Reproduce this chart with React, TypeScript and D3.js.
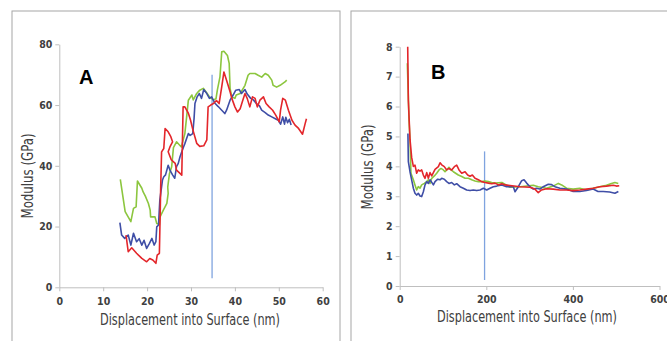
import React, { useEffect, useRef } from "react";
import * as d3 from "d3";

// panel A: modulus vs displacement (nm), three indents
const aGreen: [number, number][] = [
  [13.9, 35.5], [15.0, 24.9], [16.3, 21.6], [16.9, 26], [17.5, 26.5], [17.8, 35], [18.8, 32.6], [19.1, 31.4],
  [19.6, 30], [20.3, 27.6], [20.7, 25.4], [20.8, 23.2], [21.8, 23.2], [22.2, 21], [22.8, 20.7], [22.9, 23],
  [23.7, 25.4], [24.5, 27.6], [24.8, 30.9], [24.7, 33], [25.1, 37.5], [25.6, 39.7], [26.0, 46], [26.7, 47.9],
  [27.8, 46.2], [28.6, 50.6], [29.0, 56], [29.4, 61.6], [30.2, 63.3], [30.5, 61.7], [31.3, 63.8], [32.0, 64.9],
  [32.8, 65.5], [33.6, 64], [34.3, 62.5], [35.1, 61.7], [35.7, 62.1], [36.0, 64.9], [36.6, 69.3], [37.0, 77.5],
  [37.5, 77.7], [38.3, 76.3], [38.7, 73.7], [38.9, 65.5], [39.3, 62.7], [40.0, 62.2], [40.3, 63.3], [41.2, 63.8],
  [42.3, 66.5], [43.0, 69.8], [43.4, 70.4], [44.6, 70.4], [45.3, 69.8], [46.1, 69.2], [46.9, 70.4], [47.6, 69.8],
  [48.4, 68.2], [48.7, 66.5], [49.5, 65.9], [50.3, 66.5], [51.4, 67.6], [51.8, 68.2]
];
const aBlue: [number, number][] = [
  [13.8, 21.3], [14.2, 17.2], [14.9, 16.1], [15.7, 17.2], [16.3, 13.9], [16.9, 17.8], [17.6, 15], [18.2, 16],
  [18.8, 13.9], [19.3, 15.5], [19.9, 12.8], [20.5, 14.4], [21.1, 16.1], [21.6, 13.9], [22.0, 15], [22.2, 19.9],
  [22.6, 20.5], [22.9, 28.7], [23.5, 35.3], [23.8, 36.4], [24.2, 37], [24.8, 40.2], [25.2, 38.6], [25.8, 37],
  [26.3, 35.9], [26.7, 39.7], [27.1, 40.8], [27.5, 43], [27.9, 44.6], [28.3, 46.2], [28.6, 47.3], [29.0, 49],
  [29.4, 50.6], [29.8, 50], [30.4, 50.6], [30.7, 55.6], [30.9, 60.5], [31.4, 62.7], [31.9, 63.8], [32.4, 62.2],
  [32.9, 65.1], [33.6, 63.8], [34.2, 62.2], [34.7, 62.7], [35.5, 60.5], [36.2, 59.5], [37.0, 58.3], [37.7, 57.2],
  [38.1, 58.3], [38.9, 61.6], [39.6, 63.3], [40.2, 64.9], [41.0, 65.1], [41.5, 63.8], [42.3, 65.1], [42.8, 63.6],
  [43.6, 62.2], [44.2, 61.7], [44.9, 60.5], [45.6, 59.7], [46.1, 58.3], [46.9, 57.5], [47.6, 56.7], [48.4, 56.1],
  [49.1, 55.6], [49.9, 55], [50.4, 53.7], [50.9, 56.1], [51.3, 53.7], [51.6, 56], [52.0, 54.2], [52.4, 55.3],
  [52.8, 53.4]
];
const aRed: [number, number][] = [
  [15.2, 17.2], [15.7, 11.7], [16.5, 13], [17.6, 11.2], [18.8, 9.5], [19.9, 8.4], [20.6, 9.5], [21.3, 9],
  [22.0, 7.9], [22.3, 10.6], [22.8, 11.2], [23.1, 33.1], [23.3, 44.6], [23.8, 45.7], [24.1, 52.3], [24.8, 51.2],
  [25.4, 49.6], [25.8, 47.9], [25.2, 46.2], [24.8, 44.6], [25.5, 42], [26.4, 40.8], [26.7, 38.6], [27.5, 37.5],
  [27.9, 36.9], [28.2, 59.4], [28.6, 59.4], [29.4, 57.3], [29.9, 55], [30.4, 52], [31.3, 47.4], [32.0, 46.4],
  [32.9, 46.6], [33.6, 48.5], [33.9, 59.4], [34.5, 60], [35.1, 60.5], [35.8, 61.5], [36.4, 60.5], [37.0, 66],
  [37.5, 70.9], [38.1, 68.2], [38.9, 64.4], [39.3, 62.2], [40.0, 59.4], [40.6, 57.7], [41.2, 58.8], [41.8, 61.6],
  [42.3, 63.8], [42.8, 62.2], [43.4, 59.4], [44.0, 62.7], [44.6, 62.2], [45.1, 59.4], [45.7, 61.6], [46.5, 62.7],
  [47.1, 60.5], [47.8, 59.4], [48.6, 58.3], [49.3, 56.7], [50.1, 54.5], [50.4, 58.3], [50.9, 62.2], [51.5, 61.6],
  [52.2, 58.3], [53.0, 55], [53.7, 53.4], [54.5, 52.3], [55.4, 50.4], [56.0, 53.9], [56.3, 55.5]
];

// panel B: modulus vs displacement (nm)
const bRed: [number, number][] = [
  [18.5, 8], [20, 6.2], [23.8, 4.9], [27.6, 4.3], [31.5, 4.0], [35.3, 4.04], [39.2, 3.77], [43, 3.88],
  [46.9, 3.84], [50.8, 3.88], [54.6, 3.71], [58.5, 3.6], [62.4, 3.79], [66.2, 3.6], [70, 3.79], [73.9, 3.68],
  [77.8, 3.79], [81.6, 3.9], [89.3, 3.99], [93.2, 4.12], [97, 4.05], [103, 3.99], [108.5, 3.88], [113.8, 3.93],
  [120, 3.88], [126.2, 3.99], [131.6, 4.04], [137, 3.88], [143.2, 3.77], [150.9, 3.82], [157, 3.71], [162.4, 3.67],
  [167.8, 3.71], [174, 3.6], [181.6, 3.55], [189.4, 3.49], [197, 3.46], [204.8, 3.44], [212.5, 3.42], [220, 3.44],
  [228, 3.38], [235.8, 3.42], [243.5, 3.38], [254.7, 3.36], [277.8, 3.32], [300.8, 3.3], [312.3, 3.24], [320, 3.12],
  [327.6, 3.21], [339, 3.25], [354.5, 3.24], [370, 3.21], [385.3, 3.21], [400.7, 3.19], [416, 3.21], [431.4, 3.24],
  [446.8, 3.27], [462, 3.32], [477.5, 3.34], [493, 3.37], [500.6, 3.34], [507, 3.35]
];
const bGreen: [number, number][] = [
  [17.6, 7.45], [21.5, 5.55], [23.8, 4.88], [26, 3.77], [31.5, 3.55], [35.3, 3.38], [39.2, 3.21], [43, 3.32],
  [46.9, 3.27], [50.8, 3.38], [56.9, 3.43], [62.4, 3.49], [66.2, 3.55], [70, 3.43], [73.9, 3.6], [80, 3.68],
  [85.4, 3.77], [90.8, 3.88], [95.4, 3.93], [100.8, 3.88], [104.7, 3.82], [108.5, 3.88], [113.8, 3.97], [118.5, 3.88],
  [123.9, 3.82], [135.4, 3.71], [143.2, 3.66], [150.9, 3.6], [158.6, 3.6], [166.3, 3.55], [174, 3.51], [181.6, 3.49],
  [189.4, 3.49], [197, 3.51], [204.8, 3.49], [212.5, 3.46], [220, 3.44], [235.8, 3.46], [254.7, 3.3], [277.8, 3.32],
  [308.5, 3.37], [320, 3.32], [339, 3.27], [354.5, 3.34], [366.3, 3.43], [374, 3.38], [385.3, 3.27], [400.7, 3.24],
  [416, 3.27], [431.4, 3.21], [446.8, 3.27], [462, 3.32], [477.5, 3.37], [489, 3.43], [497, 3.46], [504.8, 3.43]
];
const bBlue: [number, number][] = [
  [19, 5.1], [20, 4.16], [23.8, 3.82], [27.6, 3.55], [31.5, 3.27], [35.3, 3.1], [39.2, 3.04], [43, 3.1],
  [46.9, 3.01], [50.8, 2.99], [54.6, 3.15], [58.5, 3.38], [62.4, 3.49], [66.2, 3.43], [70, 3.55], [77.8, 3.38],
  [81.6, 3.49], [87.8, 3.57], [93.2, 3.55], [97, 3.6], [103, 3.57], [108.5, 3.49], [113.8, 3.43], [120, 3.46],
  [126.2, 3.38], [131.6, 3.42], [139.3, 3.32], [147, 3.27], [154.7, 3.21], [162.4, 3.19], [170, 3.21], [177.8, 3.19],
  [185.5, 3.21], [193.2, 3.27], [200.9, 3.21], [208.6, 3.27], [216.3, 3.32], [224, 3.34], [235.8, 3.38], [247, 3.32],
  [262.5, 3.32], [266.3, 3.15], [274, 3.32], [281.7, 3.52], [287.1, 3.55], [293.2, 3.44], [300.8, 3.32], [308.5, 3.24],
  [316.2, 3.27], [323.9, 3.24], [331.6, 3.32], [343.2, 3.4], [350.8, 3.39], [358.5, 3.32], [370, 3.27], [385.3, 3.24],
  [400.7, 3.16], [416, 3.16], [431.4, 3.19], [446.8, 3.24], [458, 3.16], [470, 3.16], [485, 3.14], [497, 3.1], [505, 3.16]
];

const aXTicks = [0, 10, 20, 30, 40, 50, 60];
const aYTicks = [0, 20, 40, 60, 80];
const bXTicks = [0, 200, 400, 600];
const bYTicks = [0, 1, 2, 3, 4, 5, 6, 7, 8];
const aMarker: [number, number][] = [[34.8, 3], [34.8, 70]];
const bMarker: [number, number][] = [[196, 0.2], [196, 4.5]];

const GREEN = "#8cc63f";
const BLUE = "#3f4ea6";
const RED = "#e3262b";
const MARK = "#7fa3df";
const FONT = "'Liberation Sans Narrow', 'DejaVu Sans Condensed', Arial, sans-serif";

type PanelProps = {
  left: number; right: number; top: number; bottom: number;
  xDomain: [number, number]; yDomain: [number, number];
  xTicks: number[]; yTicks: number[];
  series: { data: [number, number][]; color: string }[];
  marker: [number, number][];
  letter: string; letterX: number; letterY: number;
  yTitleX: number; yTitleMid: number; xTitleY: number; xTitleMid: number;
};

const Panel = (p: PanelProps) => {
  const refx = useRef<SVGGElement>(null);
  const refy = useRef<SVGGElement>(null);
  const x = d3.scaleLinear().domain(p.xDomain).range([p.left, p.right]);
  const y = d3.scaleLinear().domain(p.yDomain).range([p.bottom, p.top]);

  useEffect(() => {
    const styleAxis = (g: d3.Selection<SVGGElement, unknown, null, undefined>) => {
      g.select(".domain").attr("stroke", "#bfbfbf");
      g.selectAll(".tick line").attr("stroke", "#bfbfbf");
      g.selectAll(".tick text")
        .attr("fill", "#404040")
        .attr("font-family", FONT)
        .attr("font-weight", "bold")
        .attr("font-size", 10.5);
    };
    d3.select(refx.current!)
      .call(d3.axisBottom(x).tickValues(p.xTicks).tickSize(4).tickSizeOuter(0).tickPadding(6))
      .call(styleAxis);
    d3.select(refy.current!)
      .call(d3.axisLeft(y).tickValues(p.yTicks).tickSize(4).tickSizeOuter(0).tickPadding(3))
      .call(styleAxis);
  }, []);

  const line = d3.line<[number, number]>().x(d => x(d[0])).y(d => y(d[1]));

  return (
    <g>
      <g ref={refx} transform={`translate(0,${p.bottom})`} />
      <g ref={refy} transform={`translate(${p.left},0)`} />
      <path d={line(p.marker) ?? ""} stroke={MARK} strokeWidth={1.3} fill="none" />
      {p.series.map((s, i) => (
        <path key={i} d={line(s.data) ?? ""} stroke={s.color} strokeWidth={1.6} fill="none" strokeLinejoin="round" />
      ))}
      <text x={p.letterX} y={p.letterY} fontFamily="Arial, 'Liberation Sans', sans-serif" fontWeight="bold" fontSize={20} fill="#000">{p.letter}</text>
      <text x={p.yTitleX} y={p.yTitleMid} transform={`rotate(-90,${p.yTitleX},${p.yTitleMid})`} textAnchor="middle"
        fontFamily={FONT} fontSize={15} fill="#404040" textLength={85} lengthAdjust="spacingAndGlyphs">Modulus (GPa)</text>
      <text x={p.xTitleMid} y={p.xTitleY} textAnchor="middle"
        fontFamily={FONT} fontSize={15} fill="#404040" textLength={180} lengthAdjust="spacingAndGlyphs">Displacement into Surface (nm)</text>
    </g>
  );
};

export default function App() {
  return (
    <svg width={667} height={341} style={{ position: "absolute", left: 0, top: 0, background: "#fff" }}>
      <rect x={12} y={11} width={328} height={340} fill="#fff" stroke="#a6a6a6" strokeWidth={1} />
      <rect x={351} y={11} width={330} height={340} fill="#fff" stroke="#a6a6a6" strokeWidth={1} />
      <Panel left={59.3} right={322.7} top={44.3} bottom={287.3}
        xDomain={[0, 60]} yDomain={[0, 80]} xTicks={aXTicks} yTicks={aYTicks}
        series={[{ data: aGreen, color: GREEN }, { data: aBlue, color: BLUE }, { data: aRed, color: RED }]}
        marker={aMarker} letter="A" letterX={79} letterY={84}
        yTitleX={33} yTitleMid={176} xTitleY={325} xTitleMid={190} />
      <Panel left={399.7} right={659.5} top={46.7} bottom={286}
        xDomain={[0, 600]} yDomain={[0, 8]} xTicks={bXTicks} yTicks={bYTicks}
        series={[{ data: bGreen, color: GREEN }, { data: bBlue, color: BLUE }, { data: bRed, color: RED }]}
        marker={bMarker} letter="B" letterX={431} letterY={79}
        yTitleX={373} yTitleMid={167} xTitleY={322} xTitleMid={527} />
    </svg>
  );
}
